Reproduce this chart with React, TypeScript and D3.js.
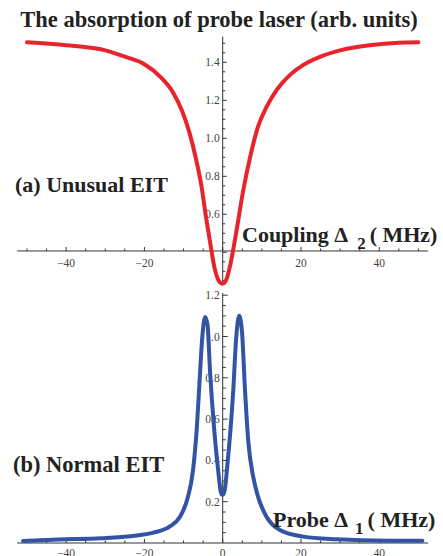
import React from "react";
import * as d3 from "d3";

const W = 443;
const H = 556;

// Top panel: coupling detuning (MHz) vs absorption
const couplingX = [-50, -40, -30, -25, -20, -16, -12.5, -10.5, -8.5, -6.8, -5.4, -4.3, -3.2, -2, -1, 0, 1, 2, 3.5, 5.2, 7, 9, 11.2, 13.8, 17, 20.5, 25, 30, 37.5, 45, 50];
const couplingY = [1.505, 1.49, 1.463, 1.43, 1.39, 1.325, 1.235, 1.15, 1.03, 0.89, 0.745, 0.59, 0.45, 0.31, 0.25, 0.235, 0.26, 0.34, 0.51, 0.72, 0.9, 1.06, 1.165, 1.255, 1.33, 1.385, 1.43, 1.463, 1.49, 1.503, 1.505];

// Bottom panel: probe detuning (MHz) vs absorption
const probeX = [-51, -42, -31, -23, -17.7, -13.5, -11, -9, -7.6, -6.6, -5.8, -5.2, -4.5, -3.9, -3.2, -2.3, -1.2, -0.3, 0.2, 1.4, 2.7, 3.4, 4.2, 4.9, 5.7, 6.5, 7.8, 9.1, 11.2, 14.6, 20.6, 29, 42, 51];
const probeY = [0.01, 0.017, 0.023, 0.034, 0.05, 0.08, 0.125, 0.215, 0.35, 0.56, 0.82, 1.0, 1.095, 1.06, 0.82, 0.58, 0.36, 0.235, 0.235, 0.42, 0.74, 0.98, 1.1, 1.03, 0.74, 0.5, 0.32, 0.22, 0.127, 0.063, 0.031, 0.018, 0.011, 0.011];

const xTickLabelsTop = [-40, -20, 20, 40];
const xTickLabelsBottom = [-40, -20, 0, 20, 40];
const yTickLabelsTop = [0.6, 0.8, 1.0, 1.2, 1.4];
const yTickLabelsBottom = [0.2, 0.4, 0.6, 0.8, 1.0, 1.2];

const serif = "'Liberation Serif', 'Times New Roman', Tinos, 'DejaVu Serif', serif";

export default function App() {
  const x = d3.scaleLinear().domain([-52.5, 52.5]).range([17.2, 428.2]);
  const yTop = d3.scaleLinear().domain([0.4, 1.4]).range([252.3, 62.3]);
  const yBot = d3.scaleLinear().domain([0, 1.2]).range([543, 295.2]);

  const topAxisV = 0.407;
  const topYMin = 0.23;
  const topYMax = 1.535;
  const botYMax = 1.21;

  const lineTop = d3
    .line<number>()
    .x((_, i) => x(couplingX[i]))
    .y((d) => yTop(d))
    .curve(d3.curveMonotoneX);
  const lineBot = d3
    .line<number>()
    .x((_, i) => x(probeX[i]))
    .y((d) => yBot(d))
    .curve(d3.curveMonotoneX);

  const xMinor = d3.range(-50, 51, 5);
  const yMinorTop = d3.range(0.25, 1.53, 0.05);
  const yMinorBot = d3.range(0.05, 1.21, 0.05);

  const axisColor = "#333";
  const labelColor = "#444";
  const x0 = x(0);
  const yAxTop = yTop(topAxisV);
  const yAxBot = yBot(0);

  const isMajor = (v: number, step: number) => Math.abs(v / step - Math.round(v / step)) < 1e-6;
  const fmt = (v: number) => (v < 0 ? "\u2212" + Math.abs(v) : String(v));

  return (
    <svg width={W} height={H} style={{ position: "absolute", left: 0, top: 0, fontFamily: serif }}>
      <rect width={W} height={H} fill="#fff" />
      {/* Title */}
      <text x={219} y={27} fontSize={22.5} fontWeight="bold" textAnchor="middle" fill="#222" style={{ fontFamily: serif }}>
        The absorption of probe laser (arb. units)
      </text>

      {/* Top axes */}
      <g stroke={axisColor} strokeWidth={1}>
        <line x1={x(-52.5)} x2={x(52.5)} y1={yAxTop} y2={yAxTop} />
        <line x1={x0} x2={x0} y1={yTop(topYMax)} y2={yTop(topYMin)} />
        {xMinor.map((v) => (
          <line key={"tx" + v} x1={x(v)} x2={x(v)} y1={yAxTop} y2={yAxTop - (isMajor(v, 20) ? 4 : 2.5)} />
        ))}
        {yMinorTop.map((v) => (
          <line key={"ty" + v} x1={x0} x2={x0 + (isMajor(v, 0.2) ? 4 : 2.5)} y1={yTop(v)} y2={yTop(v)} />
        ))}
      </g>
      <g fontSize={11.5} fill={labelColor} style={{ fontFamily: serif }}>
        {xTickLabelsTop.map((v) => (
          <text key={"txl" + v} x={x(v)} y={yAxTop + 16} textAnchor="middle">
            {fmt(v)}
          </text>
        ))}
        {yTickLabelsTop.map((v) => (
          <text key={"tyl" + v} x={x0 - 3} y={yTop(v) + 4} textAnchor="end">
            {v.toFixed(1)}
          </text>
        ))}
      </g>

      {/* Bottom axes */}
      <g stroke={axisColor} strokeWidth={1}>
        <line x1={x(-52.5)} x2={x(52.5)} y1={yAxBot} y2={yAxBot} />
        <line x1={x0} x2={x0} y1={yBot(botYMax)} y2={yAxBot} />
        {xMinor.map((v) => (
          <line key={"bx" + v} x1={x(v)} x2={x(v)} y1={yAxBot} y2={yAxBot - (isMajor(v, 20) ? 4 : 2.5)} />
        ))}
        {yMinorBot.map((v) => (
          <line key={"by" + v} x1={x0} x2={x0 + (isMajor(v, 0.2) ? 5 : 3)} y1={yBot(v)} y2={yBot(v)} />
        ))}
      </g>
      <g fontSize={11.5} fill={labelColor} style={{ fontFamily: serif }}>
        {xTickLabelsBottom.map((v) => (
          <text key={"bxl" + v} x={x(v)} y={yAxBot + 14} textAnchor="middle">
            {fmt(v)}
          </text>
        ))}
        {yTickLabelsBottom.map((v) => (
          <text key={"byl" + v} x={x0 - 3} y={yBot(v) + 4} textAnchor="end">
            {v.toFixed(1)}
          </text>
        ))}
      </g>

      {/* Curves */}
      <path d={lineTop(couplingY) || ""} fill="none" stroke="#e8232b" strokeWidth={4} strokeLinecap="round" strokeLinejoin="round" />
      <path d={lineBot(probeY) || ""} fill="none" stroke="#3353a4" strokeWidth={4} strokeLinecap="round" strokeLinejoin="round" />

      {/* Panel labels */}
      <g fontWeight="bold" fill="#222" style={{ fontFamily: serif }}>
        <text x={15} y={192} fontSize={22}>(a) Unusual EIT</text>
        <text x={13} y={472} fontSize={22.5}>(b) Normal EIT</text>

        <text x={242} y={242} fontSize={22}>
          Coupling Δ<tspan dx={9} dy={7} fontSize={17}>2</tspan>
          <tspan dx={4} dy={-7}>( MHz)</tspan>
        </text>
        <text x={273} y={527} fontSize={22}>
          Probe Δ<tspan dx={7} dy={7} fontSize={17}>1</tspan>
          <tspan dx={4} dy={-7}>( MHz)</tspan>
        </text>
      </g>
    </svg>
  );
}
